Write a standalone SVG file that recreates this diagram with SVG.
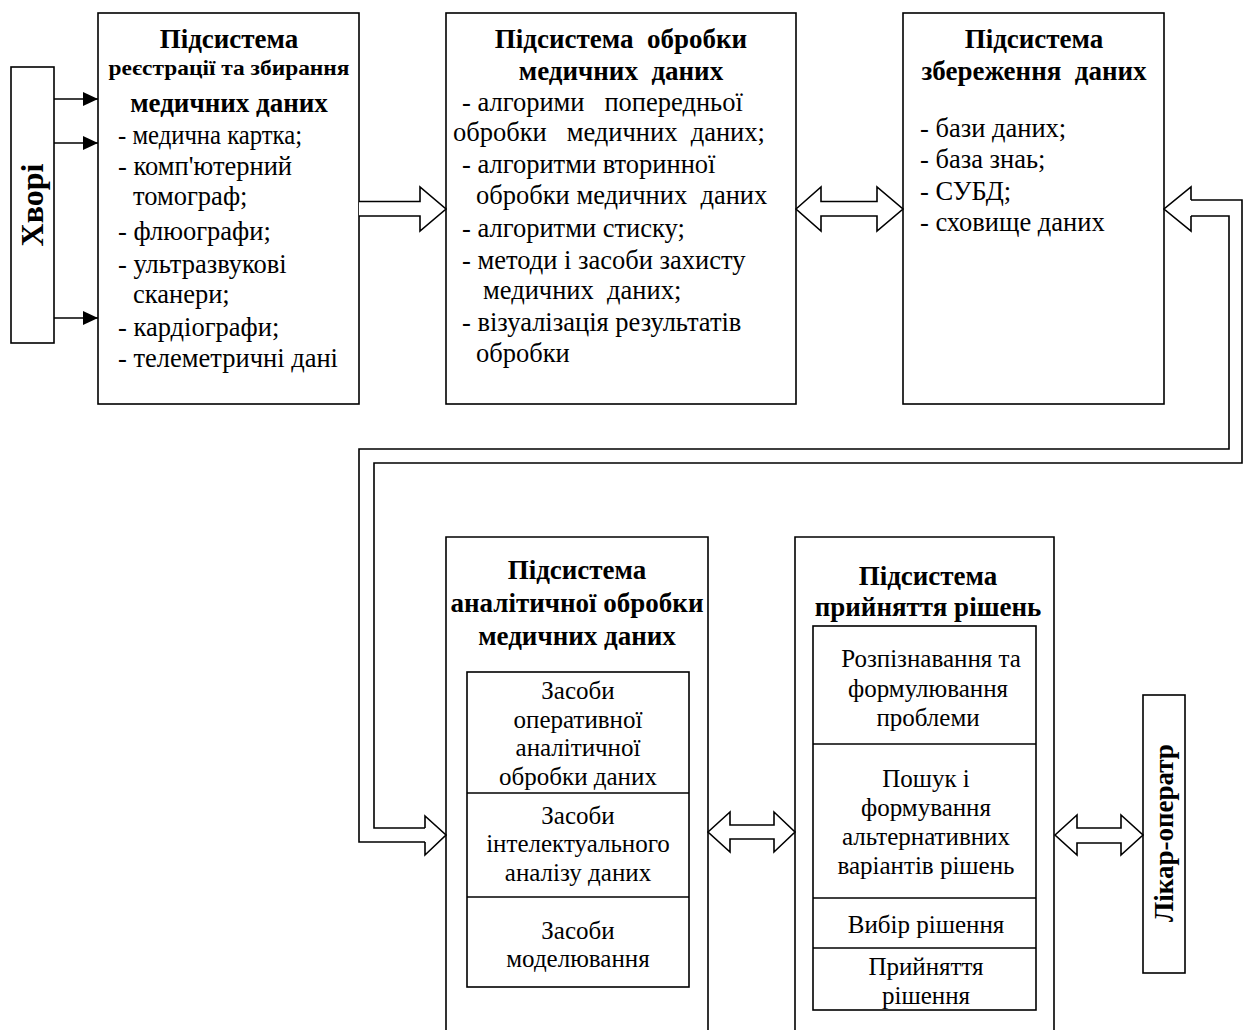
<svg xmlns="http://www.w3.org/2000/svg" width="1243" height="1030" viewBox="0 0 1243 1030">
<style>
.box{fill:#fff;stroke:#000;stroke-width:1.6}
.ln{fill:none;stroke:#000;stroke-width:1.6}
.t{font-family:"Liberation Serif","DejaVu Serif",serif;font-size:25px;fill:#000}
.u{font-size:26.5px}
.b{font-weight:bold;font-size:27px}
.c{text-anchor:middle}
.s{font-size:21px}
.xl{font-size:32px}
</style>
<defs>
<marker id="ah" markerWidth="16" markerHeight="14" refX="15" refY="7" orient="auto" markerUnits="userSpaceOnUse">
<path d="M0,0 L15,7 L0,14 z" fill="#000"/>
</marker>
</defs>
<rect width="1243" height="1030" fill="#fff"/>

<g id="khvori">
<rect class="box" x="11" y="67" width="43" height="276"/>
<text class="t b c xl" transform="translate(43,205) rotate(-90)">Хворі</text>
</g>

<g id="sub-registration">
<rect class="box" x="98" y="13" width="261" height="391"/>
<text class="t b c" x="229" y="48">Підсистема</text>
<text class="t b c s" x="229" y="75" textLength="241" lengthAdjust="spacingAndGlyphs">реєстрації та збирання</text>
<text class="t b c" x="229" y="112">медичних даних</text>
<text class="t u" x="118" y="144" textLength="184" lengthAdjust="spacingAndGlyphs">- медична картка;</text>
<text class="t u" x="118" y="175">- комп'ютерний</text>
<text class="t u" x="133" y="205">томограф;</text>
<text class="t u" x="118" y="240">- флюографи;</text>
<text class="t u" x="118" y="273">- ультразвукові</text>
<text class="t u" x="133" y="303">сканери;</text>
<text class="t u" x="118" y="336">- кардіографи;</text>
<text class="t u" x="118" y="367">- телеметричні дані</text>
</g>

<g id="sub-processing">
<rect class="box" x="446" y="13" width="350" height="391"/>
<text class="t b c" x="621" y="48" xml:space="preserve">Підсистема  обробки</text>
<text class="t b c" x="621" y="80" xml:space="preserve">медичних  даних</text>
<text class="t u" x="462" y="111" xml:space="preserve">- алгорими   попередньої</text>
<text class="t u" x="453" y="141" xml:space="preserve">обробки   медичних  даних;</text>
<text class="t u" x="462" y="173">- алгоритми вторинної</text>
<text class="t u" x="476" y="204" xml:space="preserve">обробки медичних  даних</text>
<text class="t u" x="462" y="237">- алгоритми стиску;</text>
<text class="t u" x="462" y="269">- методи і засоби захисту</text>
<text class="t u" x="483" y="299" xml:space="preserve">медичних  даних;</text>
<text class="t u" x="462" y="331">- візуалізація результатів</text>
<text class="t u" x="476" y="362">обробки</text>
</g>

<g id="sub-storage">
<rect class="box" x="903" y="13" width="261" height="391"/>
<text class="t b c" x="1034" y="48">Підсистема</text>
<text class="t b c" x="1034" y="80" xml:space="preserve">збереження  даних</text>
<text class="t u" x="920" y="137">- бази даних;</text>
<text class="t u" x="920" y="168">- база знаь;</text>
<text class="t u" x="920" y="200">- СУБД;</text>
<text class="t u" x="920" y="231">- сховище даних</text>
</g>

<g id="sub-analytics">
<path class="ln" d="M446,1040 V537 H708 V1040"/>
<text class="t b c" x="577" y="579">Підсистема</text>
<text class="t b c" x="577" y="612">аналітичної обробки</text>
<text class="t b c" x="577" y="645">медичних даних</text>
<rect class="box" x="467" y="672" width="222" height="315"/>
<line class="ln" x1="467" y1="793" x2="689" y2="793"/>
<line class="ln" x1="467" y1="897" x2="689" y2="897"/>
<text class="t c" x="578" y="699">Засоби</text>
<text class="t c" x="578" y="728">оперативної</text>
<text class="t c" x="578" y="756">аналітичної</text>
<text class="t c" x="578" y="785">обробки даних</text>
<text class="t c" x="578" y="824">Засоби</text>
<text class="t c" x="578" y="852">інтелектуального</text>
<text class="t c" x="578" y="881">аналізу даних</text>
<text class="t c" x="578" y="939">Засоби</text>
<text class="t c" x="578" y="967">моделювання</text>
</g>

<g id="sub-decision">
<path class="ln" d="M795,1040 V537 H1054 V1040"/>
<text class="t b c" x="928" y="585">Підсистема</text>
<text class="t b c" x="928" y="616">прийняття рішень</text>
<rect class="box" x="813" y="626" width="223" height="384"/>
<line class="ln" x1="813" y1="744" x2="1036" y2="744"/>
<line class="ln" x1="813" y1="898" x2="1036" y2="898"/>
<line class="ln" x1="813" y1="948" x2="1036" y2="948"/>
<text class="t c" x="931" y="667">Розпізнавання та</text>
<text class="t c" x="928" y="697">формулювання</text>
<text class="t c" x="928" y="726">проблеми</text>
<text class="t c" x="926" y="787">Пошук і</text>
<text class="t c" x="926" y="816">формування</text>
<text class="t c" x="926" y="845">альтернативних</text>
<text class="t c" x="926" y="874">варіантів рішень</text>
<text class="t c" x="926" y="933">Вибір рішення</text>
<text class="t c" x="926" y="975">Прийняття</text>
<text class="t c" x="926" y="1004">рішення</text>
</g>

<g id="likar">
<rect class="box" x="1143" y="695" width="42" height="278"/>
<text class="t b c" transform="translate(1173,833) rotate(-90)">Лікар-оператр</text>
</g>

<g id="connectors">
<line class="ln" x1="54" y1="99" x2="98" y2="99" marker-end="url(#ah)"/>
<line class="ln" x1="54" y1="143" x2="98" y2="143" marker-end="url(#ah)"/>
<line class="ln" x1="54" y1="318" x2="98" y2="318" marker-end="url(#ah)"/>
<path class="box" d="M359,201.5 H420 V187 L446,209 L420,231 V216 H359"/>
<path class="box" d="M796,209 L821,187 V201.5 H877 V187 L903,209 L877,231 V216 H821 V231 Z"/>
<path class="ln" d="M1191,200 H1242 V463 H374 V828 H425"/>
<path class="ln" d="M1191,216 H1229 V449 H359 V842 H425"/>
<path class="ln" d="M1191,200 V187 L1164,209 L1191,231 V216"/>
<path class="ln" d="M425,828 V816 L446,835 L425,855 V842"/>
<path class="box" d="M708,832 L730,812 V825 H774 V812 L795,832 L774,852 V839 H730 V852 Z"/>
<path class="box" d="M1055,835 L1077,815 V828 H1121 V815 L1143,835 L1121,855 V843 H1077 V855 Z"/>
</g>
</svg>
